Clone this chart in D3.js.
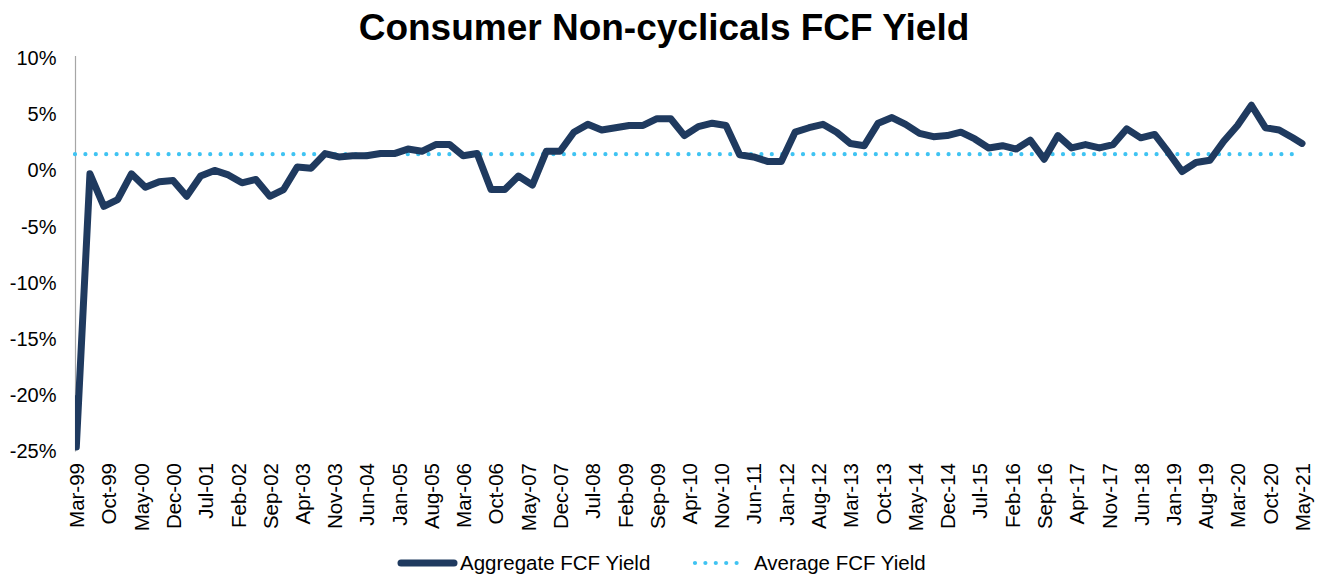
<!DOCTYPE html>
<html>
<head>
<meta charset="utf-8">
<script src="https://cdn.jsdelivr.net/npm/d3@7/dist/d3.min.js"></script>
<style>
  html, body { margin: 0; padding: 0; background: #ffffff; }
  svg { display: block; font-family: "Liberation Sans", Arial, sans-serif; }
</style>
</head>
<body>
<svg id="chart" width="1320" height="574"></svg>
<script>
const title = "Consumer Non-cyclicals FCF Yield";

// Observation dates (first two points are the opening spike in Mar-99)
const dates = [
  "1999-02-26","1999-03-03","1999-06-01","1999-09-01","1999-12-01",
  "2000-03-01","2000-06-01","2000-09-01","2000-12-01",
  "2001-03-01","2001-06-01","2001-09-01","2001-12-01",
  "2002-03-01","2002-06-01","2002-09-01","2002-12-01",
  "2003-03-01","2003-06-01","2003-09-01","2003-12-01",
  "2004-03-01","2004-06-01","2004-09-01","2004-12-01",
  "2005-03-01","2005-06-01","2005-09-01","2005-12-01",
  "2006-03-01","2006-06-01","2006-09-01","2006-12-01",
  "2007-03-01","2007-06-01","2007-09-01","2007-12-01",
  "2008-03-01","2008-06-01","2008-09-01","2008-12-01",
  "2009-03-01","2009-06-01","2009-09-01","2009-12-01",
  "2010-03-01","2010-06-01","2010-09-01","2010-12-01",
  "2011-03-01","2011-06-01","2011-09-01","2011-12-01",
  "2012-03-01","2012-06-01","2012-09-01","2012-12-01",
  "2013-03-01","2013-06-01","2013-09-01","2013-12-01",
  "2014-03-01","2014-06-01","2014-09-01","2014-12-01",
  "2015-03-01","2015-06-01","2015-09-01","2015-12-01",
  "2016-03-01","2016-06-01","2016-09-01","2016-12-01",
  "2017-03-01","2017-06-01","2017-09-01","2017-12-01",
  "2018-03-01","2018-06-01","2018-09-01","2018-12-01",
  "2019-03-01","2019-06-01","2019-09-01","2019-12-01",
  "2020-03-01","2020-06-01","2020-09-01","2020-12-01",
  "2021-03-01","2021-05-01"
];

// Aggregate FCF Yield (%)
const aggregateYield = [
  -20.3, -24.6, -0.3, -3.2, -2.6,
  -0.3, -1.5, -1.0, -0.9,
  -2.3, -0.5, 0.0, -0.4,
  -1.1, -0.8, -2.3, -1.7,
  0.3, 0.2, 1.5, 1.2,
  1.3, 1.3, 1.5, 1.5,
  1.9, 1.7, 2.3, 2.3,
  1.3, 1.5, -1.7, -1.7,
  -0.5, -1.3, 1.7, 1.7,
  3.4, 4.1, 3.6, 3.8,
  4.0, 4.0, 4.6, 4.6,
  3.1, 3.9, 4.2, 4.0,
  1.4, 1.2, 0.8, 0.8,
  3.4, 3.8, 4.1, 3.4,
  2.4, 2.2, 4.2, 4.7,
  4.1, 3.3, 3.0, 3.1,
  3.4, 2.8, 2.0, 2.2,
  1.9, 2.7, 1.0, 3.1,
  2.0, 2.3, 2.0, 2.3,
  3.7, 2.9, 3.2, 1.6,
  -0.1, 0.7, 0.9, 2.6,
  4.0, 5.8, 3.8, 3.6,
  2.9, 2.4
];

// Average FCF Yield (%)
const averageYield = 1.45;

const xTickLabels = [
  "Mar-99","Oct-99","May-00","Dec-00","Jul-01","Feb-02","Sep-02","Apr-03","Nov-03",
  "Jun-04","Jan-05","Aug-05","Mar-06","Oct-06","May-07","Dec-07","Jul-08","Feb-09",
  "Sep-09","Apr-10","Nov-10","Jun-11","Jan-12","Aug-12","Mar-13","Oct-13","May-14",
  "Dec-14","Jul-15","Feb-16","Sep-16","Apr-17","Nov-17","Jun-18","Jan-19","Aug-19",
  "Mar-20","Oct-20","May-21"
];
const yTicks = [-25, -20, -15, -10, -5, 0, 5, 10];

const seriesNames = ["Aggregate FCF Yield", "Average FCF Yield"];
const colors = { line: "#1f3a5f", avg: "#3fc3f2", axis: "#a6a6a6" };

const parseDay = d3.timeParse("%Y-%m-%d");
const parseLabel = d3.timeParse("%b-%y");
const data = dates.map((d, i) => ({ date: parseDay(d), value: aggregateYield[i] }));
const tickDates = xTickLabels.map(l => parseLabel(l));

const svg = d3.select("#chart");
svg.append("rect").attr("width", 1320).attr("height", 574).attr("fill", "#fff");

const x = d3.scaleTime()
  .domain([parseLabel("Mar-99"), parseLabel("May-21")])
  .range([76, 1302]);
const y = d3.scaleLinear().domain([-25, 10]).range([451.5, 58]);

// Title
svg.append("text")
  .attr("x", 664).attr("y", 40)
  .attr("text-anchor", "middle")
  .attr("font-weight", "bold")
  .attr("font-size", 37)
  .attr("fill", "#000")
  .text(title);

// Y axis
const yAxis = svg.append("g")
  .attr("transform", "translate(75.5,0)")
  .call(d3.axisLeft(y).tickValues(yTicks).tickSize(0).tickPadding(19)
        .tickFormat(d => d + "%"));
yAxis.select(".domain").attr("stroke", colors.axis).attr("stroke-width", 1.2)
  .attr("d", `M0,${y(10) - 2}V${y(-25)}`);
yAxis.selectAll("text").attr("font-size", 20).attr("fill", "#000")
  .attr("font-family", "Liberation Sans, Arial, sans-serif");

// X axis labels (rotated)
const xAxis = svg.append("g")
  .attr("transform", `translate(0,${y(-25)})`)
  .call(d3.axisBottom(x).tickValues(tickDates).tickSize(0)
        .tickFormat((d, i) => xTickLabels[i]));
xAxis.select(".domain").remove();
xAxis.selectAll("text")
  .attr("font-size", 20.5).attr("fill", "#000")
  .attr("font-family", "Liberation Sans, Arial, sans-serif")
  .attr("text-anchor", "end")
  .attr("transform", "rotate(-90)")
  .attr("x", -11.5).attr("y", 0).attr("dy", "0.36em");

// Average line
svg.append("line")
  .attr("x1", 75).attr("x2", x(data[data.length - 1].date) - 8)
  .attr("y1", y(averageYield)).attr("y2", y(averageYield))
  .attr("stroke", colors.avg).attr("stroke-width", 4.2)
  .attr("stroke-linecap", "round").attr("stroke-dasharray", "0 10.4");

// Aggregate line
const clipId = "plotclip";
svg.append("clipPath").attr("id", clipId).append("rect")
  .attr("x", 75).attr("y", 0).attr("width", 1260).attr("height", 500);
svg.append("path")
  .datum(data)
  .attr("clip-path", `url(#${clipId})`)
  .attr("fill", "none")
  .attr("stroke", colors.line)
  .attr("stroke-width", 7)
  .attr("stroke-linejoin", "round")
  .attr("stroke-linecap", "round")
  .attr("d", d3.line().x(d => x(d.date)).y(d => y(d.value)));

// Legend
const lg = svg.append("g");
lg.append("line").attr("x1", 401).attr("x2", 454).attr("y1", 563).attr("y2", 563)
  .attr("stroke", colors.line).attr("stroke-width", 7).attr("stroke-linecap", "round");
lg.append("text").attr("x", 460).attr("y", 569.5).attr("font-size", 20.5)
  .attr("fill", "#000").text(seriesNames[0]);
lg.append("line").attr("x1", 695).attr("x2", 739).attr("y1", 563).attr("y2", 563)
  .attr("stroke", colors.avg).attr("stroke-width", 4.2)
  .attr("stroke-linecap", "round").attr("stroke-dasharray", "0 10.4");
lg.append("text").attr("x", 754).attr("y", 569.5).attr("font-size", 20.5)
  .attr("fill", "#000").text(seriesNames[1]);
</script>
</body>
</html>
